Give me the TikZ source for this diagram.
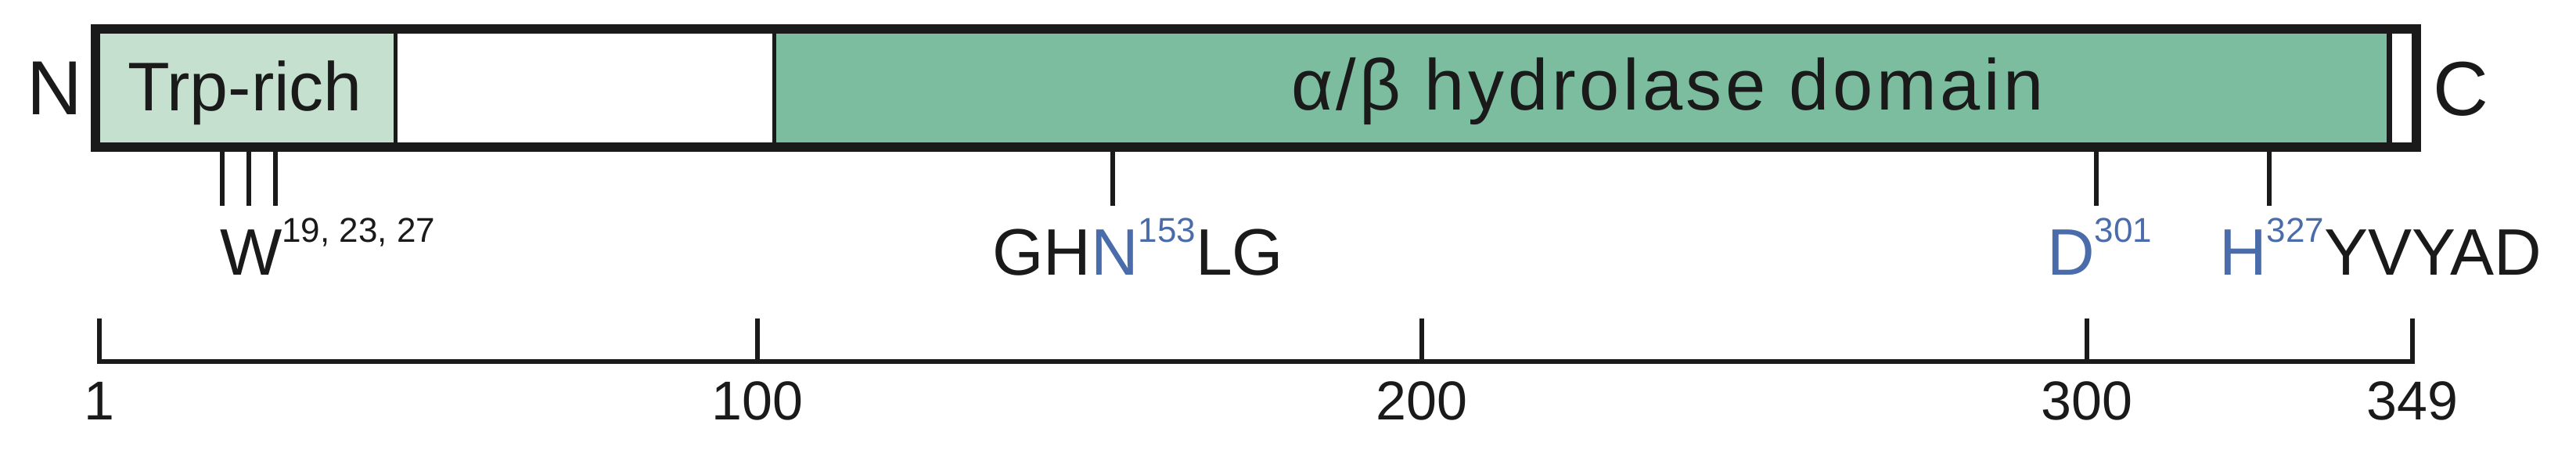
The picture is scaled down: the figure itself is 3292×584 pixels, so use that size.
\documentclass[tikz,border=0pt]{standalone}
\usepackage{fontspec}
\setmainfont{Liberation Sans}
\usetikzlibrary{positioning}
\definecolor{trpgreen}{RGB}{197,224,206}
\definecolor{hydgreen}{RGB}{123,189,158}
\definecolor{siteblue}{RGB}{74,108,170}
\definecolor{outline}{RGB}{26,26,26}
\newcommand{\resnum}[1]{\raisebox{10.5pt}{\fontsize{11}{11}\selectfont #1}}
\newcommand{\bigfont}{\fontsize{24.5}{24.5}\selectfont}
\newcommand{\sitefont}{\fontsize{21}{21}\selectfont}

\begin{document}
\begin{tikzpicture}[x=0.25pt, y=-0.25pt,
    declare function={rx(\r)=127+(\r-1)*8.494;},
    site/.style={line width=1.6pt, draw=outline},
    ruler/.style={line width=1.5pt, draw=outline},
    lbl/.style={inner sep=0pt, outer sep=0pt, text=outline}]
    \useasboundingbox (0,0) rectangle (3292,584);

    % protein bar
    \coordinate (barNW) at (122,37);
    \coordinate (barSE) at (3088,188);
    \fill[trpgreen] (barNW) rectangle (505,188);
    \fill[hydgreen] (989,37) rectangle (3053,188);
    \draw[line width=1.25pt, outline] (505,37) -- (505,188);
    \draw[line width=1.25pt, outline] (989,37) -- (989,188);
    \draw[line width=1.75pt, outline] (3053,37) -- (3053,188);
    \draw[line width=3pt, outline] (barNW) rectangle (barSE);

    \node[lbl, font=\bigfont, anchor=base] (nterm) at (70,147) {N};
    \node[lbl, font=\bigfont, anchor=base] (cterm) at (3145,148) {C};
    \node[lbl, font=\fontsize{22}{22}\selectfont, anchor=base] (trp) at (313,142) {Trp-rich};
    \node[lbl, font=\fontsize{23}{23}\selectfont\addfontfeature{LetterSpace=5}, anchor=base west] (hydro) at (1650,141)
        {α/β hydrolase domain};

    % residues
    \foreach \r in {19,23,27,153,301,327}
        \draw[site] ({rx(\r)+4},194) -- ({rx(\r)+4},263);

    \node[lbl, font=\sitefont, anchor=base west] (trpres) at (281,352)
        {W\resnum{19, 23, 27}};
    \node[lbl, font=\sitefont, anchor=base west] (oxyhole) at (1268,352)
        {GH\textcolor{siteblue}{N\resnum{153}}LG};
    \node[lbl, font=\sitefont, anchor=base west] (asp) at (2616,352)
        {\textcolor{siteblue}{D\resnum{301}}};
    \node[lbl, font=\sitefont, anchor=base west] (his) at (2836,352)
        {\textcolor{siteblue}{H\resnum{327}}YVYAD};

    % ruler
    \draw[ruler] ({rx(1)},407) -- ({rx(1)},462) -- ({rx(349)},462) -- ({rx(349)},407);
    \foreach \r in {100,200,300}
        \draw[ruler] ({rx(\r)},407) -- ({rx(\r)},462);
    \foreach \r in {1,100,200,300,349}
        \node[lbl, font=\fontsize{17.5}{17.5}\selectfont, anchor=base] (tick\r) at ({rx(\r)},537) {\r};
\end{tikzpicture}
\end{document}
